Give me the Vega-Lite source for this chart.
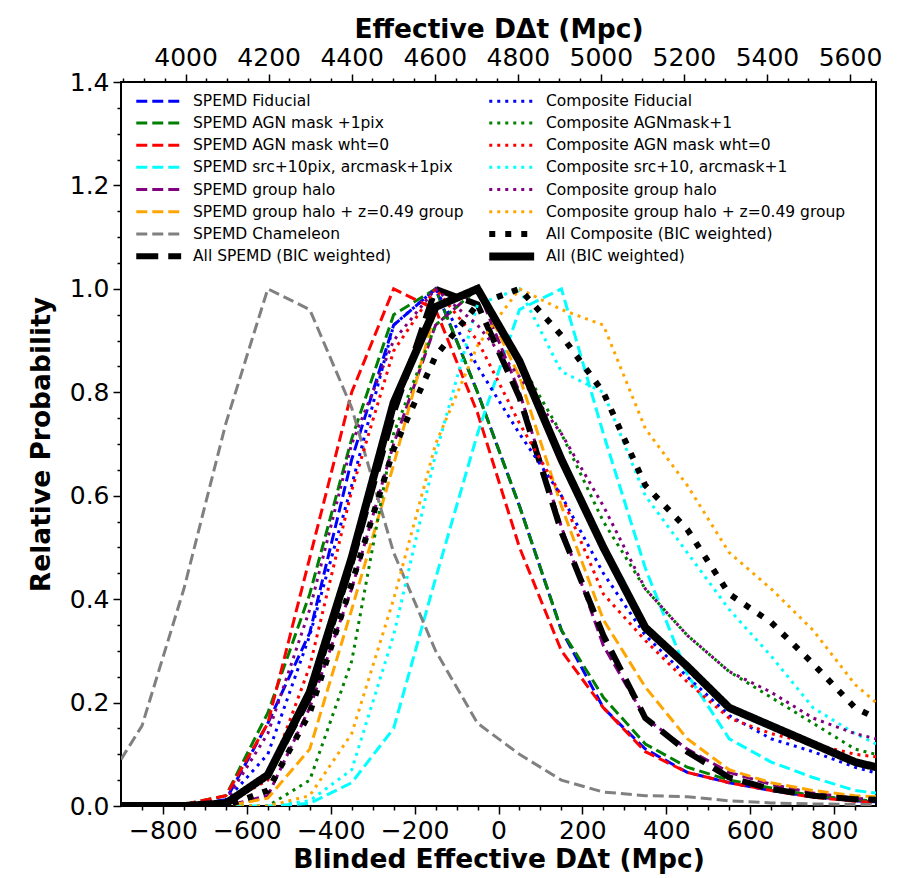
{
  "$schema": "https://vega.github.io/schema/vega-lite/v6.json",
  "width": 755,
  "height": 724,
  "autosize": {"type": "none"},
  "padding": {"left": 121, "top": 82, "right": 32, "bottom": 72},
  "background": "white",
  "config": {
    "view": {"stroke": "black", "strokeWidth": 2},
    "axis": {"domain": false, "grid": false, "tickColor": "black", "tickWidth": 1.5, "labelColor": "black", "labelFont": "DejaVu Sans", "labelFontSize": 25, "titleFont": "DejaVu Sans", "titleFontWeight": "bold", "titleFontSize": 26.5, "titleColor": "black"}
  },
  "data": {"values": [
{"s":"SPEMD Fiducial","x":-900,"y":0},{"s":"SPEMD Fiducial","x":-850,"y":0},{"s":"SPEMD Fiducial","x":-750,"y":0.002},{"s":"SPEMD Fiducial","x":-650,"y":0.012},{"s":"SPEMD Fiducial","x":-550,"y":0.16},{"s":"SPEMD Fiducial","x":-450,"y":0.335},{"s":"SPEMD Fiducial","x":-350,"y":0.67},{"s":"SPEMD Fiducial","x":-250,"y":0.93},{"s":"SPEMD Fiducial","x":-150,"y":1.0},{"s":"SPEMD Fiducial","x":-50,"y":0.8},{"s":"SPEMD Fiducial","x":50,"y":0.58},{"s":"SPEMD Fiducial","x":150,"y":0.34},{"s":"SPEMD Fiducial","x":250,"y":0.19},{"s":"SPEMD Fiducial","x":350,"y":0.11},{"s":"SPEMD Fiducial","x":450,"y":0.065},{"s":"SPEMD Fiducial","x":550,"y":0.045},{"s":"SPEMD Fiducial","x":650,"y":0.03},{"s":"SPEMD Fiducial","x":750,"y":0.018},{"s":"SPEMD Fiducial","x":850,"y":0.01},{"s":"SPEMD Fiducial","x":900,"y":0.008},
{"s":"SPEMD AGN mask +1pix","x":-900,"y":0},{"s":"SPEMD AGN mask +1pix","x":-850,"y":0},{"s":"SPEMD AGN mask +1pix","x":-750,"y":0.003},{"s":"SPEMD AGN mask +1pix","x":-650,"y":0.02},{"s":"SPEMD AGN mask +1pix","x":-550,"y":0.18},{"s":"SPEMD AGN mask +1pix","x":-450,"y":0.41},{"s":"SPEMD AGN mask +1pix","x":-350,"y":0.71},{"s":"SPEMD AGN mask +1pix","x":-250,"y":0.95},{"s":"SPEMD AGN mask +1pix","x":-150,"y":1.0},{"s":"SPEMD AGN mask +1pix","x":-50,"y":0.8},{"s":"SPEMD AGN mask +1pix","x":50,"y":0.58},{"s":"SPEMD AGN mask +1pix","x":150,"y":0.34},{"s":"SPEMD AGN mask +1pix","x":250,"y":0.21},{"s":"SPEMD AGN mask +1pix","x":350,"y":0.12},{"s":"SPEMD AGN mask +1pix","x":450,"y":0.075},{"s":"SPEMD AGN mask +1pix","x":550,"y":0.05},{"s":"SPEMD AGN mask +1pix","x":650,"y":0.035},{"s":"SPEMD AGN mask +1pix","x":750,"y":0.02},{"s":"SPEMD AGN mask +1pix","x":850,"y":0.012},{"s":"SPEMD AGN mask +1pix","x":900,"y":0.01},
{"s":"SPEMD AGN mask wht=0","x":-900,"y":0},{"s":"SPEMD AGN mask wht=0","x":-850,"y":0},{"s":"SPEMD AGN mask wht=0","x":-750,"y":0.003},{"s":"SPEMD AGN mask wht=0","x":-650,"y":0.02},{"s":"SPEMD AGN mask wht=0","x":-550,"y":0.16},{"s":"SPEMD AGN mask wht=0","x":-450,"y":0.48},{"s":"SPEMD AGN mask wht=0","x":-350,"y":0.8},{"s":"SPEMD AGN mask wht=0","x":-250,"y":1.0},{"s":"SPEMD AGN mask wht=0","x":-150,"y":0.96},{"s":"SPEMD AGN mask wht=0","x":-50,"y":0.76},{"s":"SPEMD AGN mask wht=0","x":50,"y":0.5},{"s":"SPEMD AGN mask wht=0","x":150,"y":0.3},{"s":"SPEMD AGN mask wht=0","x":250,"y":0.19},{"s":"SPEMD AGN mask wht=0","x":350,"y":0.105},{"s":"SPEMD AGN mask wht=0","x":450,"y":0.065},{"s":"SPEMD AGN mask wht=0","x":550,"y":0.045},{"s":"SPEMD AGN mask wht=0","x":650,"y":0.03},{"s":"SPEMD AGN mask wht=0","x":750,"y":0.017},{"s":"SPEMD AGN mask wht=0","x":850,"y":0.009},{"s":"SPEMD AGN mask wht=0","x":900,"y":0.007},
{"s":"SPEMD src+10pix, arcmask+1pix","x":-900,"y":0},{"s":"SPEMD src+10pix, arcmask+1pix","x":-850,"y":0},{"s":"SPEMD src+10pix, arcmask+1pix","x":-750,"y":0},{"s":"SPEMD src+10pix, arcmask+1pix","x":-650,"y":0},{"s":"SPEMD src+10pix, arcmask+1pix","x":-550,"y":0},{"s":"SPEMD src+10pix, arcmask+1pix","x":-450,"y":0.005},{"s":"SPEMD src+10pix, arcmask+1pix","x":-350,"y":0.045},{"s":"SPEMD src+10pix, arcmask+1pix","x":-250,"y":0.15},{"s":"SPEMD src+10pix, arcmask+1pix","x":-150,"y":0.44},{"s":"SPEMD src+10pix, arcmask+1pix","x":-50,"y":0.72},{"s":"SPEMD src+10pix, arcmask+1pix","x":50,"y":0.96},{"s":"SPEMD src+10pix, arcmask+1pix","x":150,"y":1.0},{"s":"SPEMD src+10pix, arcmask+1pix","x":250,"y":0.72},{"s":"SPEMD src+10pix, arcmask+1pix","x":350,"y":0.46},{"s":"SPEMD src+10pix, arcmask+1pix","x":450,"y":0.255},{"s":"SPEMD src+10pix, arcmask+1pix","x":550,"y":0.13},{"s":"SPEMD src+10pix, arcmask+1pix","x":650,"y":0.085},{"s":"SPEMD src+10pix, arcmask+1pix","x":750,"y":0.055},{"s":"SPEMD src+10pix, arcmask+1pix","x":850,"y":0.03},{"s":"SPEMD src+10pix, arcmask+1pix","x":900,"y":0.025},
{"s":"SPEMD group halo","x":-900,"y":0},{"s":"SPEMD group halo","x":-850,"y":0},{"s":"SPEMD group halo","x":-750,"y":0},{"s":"SPEMD group halo","x":-650,"y":0},{"s":"SPEMD group halo","x":-550,"y":0.02},{"s":"SPEMD group halo","x":-450,"y":0.19},{"s":"SPEMD group halo","x":-350,"y":0.42},{"s":"SPEMD group halo","x":-250,"y":0.7},{"s":"SPEMD group halo","x":-150,"y":0.93},{"s":"SPEMD group halo","x":-50,"y":1.0},{"s":"SPEMD group halo","x":50,"y":0.8},{"s":"SPEMD group halo","x":150,"y":0.54},{"s":"SPEMD group halo","x":250,"y":0.31},{"s":"SPEMD group halo","x":350,"y":0.17},{"s":"SPEMD group halo","x":450,"y":0.11},{"s":"SPEMD group halo","x":550,"y":0.065},{"s":"SPEMD group halo","x":650,"y":0.042},{"s":"SPEMD group halo","x":750,"y":0.025},{"s":"SPEMD group halo","x":850,"y":0.015},{"s":"SPEMD group halo","x":900,"y":0.012},
{"s":"SPEMD group halo + z=0.49 group","x":-900,"y":0},{"s":"SPEMD group halo + z=0.49 group","x":-850,"y":0},{"s":"SPEMD group halo + z=0.49 group","x":-750,"y":0},{"s":"SPEMD group halo + z=0.49 group","x":-650,"y":0},{"s":"SPEMD group halo + z=0.49 group","x":-550,"y":0.015},{"s":"SPEMD group halo + z=0.49 group","x":-450,"y":0.11},{"s":"SPEMD group halo + z=0.49 group","x":-350,"y":0.38},{"s":"SPEMD group halo + z=0.49 group","x":-250,"y":0.66},{"s":"SPEMD group halo + z=0.49 group","x":-150,"y":0.96},{"s":"SPEMD group halo + z=0.49 group","x":-50,"y":1.0},{"s":"SPEMD group halo + z=0.49 group","x":50,"y":0.83},{"s":"SPEMD group halo + z=0.49 group","x":150,"y":0.58},{"s":"SPEMD group halo + z=0.49 group","x":250,"y":0.36},{"s":"SPEMD group halo + z=0.49 group","x":350,"y":0.23},{"s":"SPEMD group halo + z=0.49 group","x":450,"y":0.13},{"s":"SPEMD group halo + z=0.49 group","x":550,"y":0.07},{"s":"SPEMD group halo + z=0.49 group","x":650,"y":0.045},{"s":"SPEMD group halo + z=0.49 group","x":750,"y":0.03},{"s":"SPEMD group halo + z=0.49 group","x":850,"y":0.02},{"s":"SPEMD group halo + z=0.49 group","x":900,"y":0.018},
{"s":"SPEMD Chameleon","x":-900,"y":0.09},{"s":"SPEMD Chameleon","x":-850,"y":0.155},{"s":"SPEMD Chameleon","x":-750,"y":0.42},{"s":"SPEMD Chameleon","x":-650,"y":0.74},{"s":"SPEMD Chameleon","x":-550,"y":1.0},{"s":"SPEMD Chameleon","x":-450,"y":0.96},{"s":"SPEMD Chameleon","x":-350,"y":0.77},{"s":"SPEMD Chameleon","x":-250,"y":0.49},{"s":"SPEMD Chameleon","x":-150,"y":0.3},{"s":"SPEMD Chameleon","x":-50,"y":0.16},{"s":"SPEMD Chameleon","x":50,"y":0.1},{"s":"SPEMD Chameleon","x":150,"y":0.05},{"s":"SPEMD Chameleon","x":250,"y":0.027},{"s":"SPEMD Chameleon","x":350,"y":0.02},{"s":"SPEMD Chameleon","x":450,"y":0.018},{"s":"SPEMD Chameleon","x":550,"y":0.01},{"s":"SPEMD Chameleon","x":650,"y":0.006},{"s":"SPEMD Chameleon","x":750,"y":0.004},{"s":"SPEMD Chameleon","x":850,"y":0.003},{"s":"SPEMD Chameleon","x":900,"y":0.003},
{"s":"All SPEMD (BIC weighted)","x":-900,"y":0},{"s":"All SPEMD (BIC weighted)","x":-850,"y":0},{"s":"All SPEMD (BIC weighted)","x":-750,"y":0},{"s":"All SPEMD (BIC weighted)","x":-650,"y":0.005},{"s":"All SPEMD (BIC weighted)","x":-550,"y":0.06},{"s":"All SPEMD (BIC weighted)","x":-450,"y":0.21},{"s":"All SPEMD (BIC weighted)","x":-350,"y":0.47},{"s":"All SPEMD (BIC weighted)","x":-250,"y":0.76},{"s":"All SPEMD (BIC weighted)","x":-150,"y":1.0},{"s":"All SPEMD (BIC weighted)","x":-50,"y":0.97},{"s":"All SPEMD (BIC weighted)","x":50,"y":0.79},{"s":"All SPEMD (BIC weighted)","x":150,"y":0.53},{"s":"All SPEMD (BIC weighted)","x":250,"y":0.33},{"s":"All SPEMD (BIC weighted)","x":350,"y":0.17},{"s":"All SPEMD (BIC weighted)","x":450,"y":0.105},{"s":"All SPEMD (BIC weighted)","x":550,"y":0.055},{"s":"All SPEMD (BIC weighted)","x":650,"y":0.033},{"s":"All SPEMD (BIC weighted)","x":750,"y":0.02},{"s":"All SPEMD (BIC weighted)","x":850,"y":0.013},{"s":"All SPEMD (BIC weighted)","x":900,"y":0.012},
{"s":"Composite Fiducial","x":-900,"y":0},{"s":"Composite Fiducial","x":-850,"y":0},{"s":"Composite Fiducial","x":-750,"y":0},{"s":"Composite Fiducial","x":-650,"y":0.01},{"s":"Composite Fiducial","x":-550,"y":0.1},{"s":"Composite Fiducial","x":-450,"y":0.33},{"s":"Composite Fiducial","x":-350,"y":0.62},{"s":"Composite Fiducial","x":-250,"y":0.93},{"s":"Composite Fiducial","x":-150,"y":1.0},{"s":"Composite Fiducial","x":-50,"y":0.85},{"s":"Composite Fiducial","x":50,"y":0.72},{"s":"Composite Fiducial","x":150,"y":0.6},{"s":"Composite Fiducial","x":250,"y":0.45},{"s":"Composite Fiducial","x":350,"y":0.33},{"s":"Composite Fiducial","x":450,"y":0.25},{"s":"Composite Fiducial","x":550,"y":0.175},{"s":"Composite Fiducial","x":650,"y":0.13},{"s":"Composite Fiducial","x":750,"y":0.105},{"s":"Composite Fiducial","x":850,"y":0.075},{"s":"Composite Fiducial","x":900,"y":0.064},
{"s":"Composite AGNmask+1","x":-900,"y":0},{"s":"Composite AGNmask+1","x":-850,"y":0},{"s":"Composite AGNmask+1","x":-750,"y":0},{"s":"Composite AGNmask+1","x":-650,"y":0},{"s":"Composite AGNmask+1","x":-550,"y":0},{"s":"Composite AGNmask+1","x":-450,"y":0.05},{"s":"Composite AGNmask+1","x":-350,"y":0.28},{"s":"Composite AGNmask+1","x":-250,"y":0.72},{"s":"Composite AGNmask+1","x":-150,"y":0.93},{"s":"Composite AGNmask+1","x":-50,"y":1.0},{"s":"Composite AGNmask+1","x":50,"y":0.86},{"s":"Composite AGNmask+1","x":150,"y":0.72},{"s":"Composite AGNmask+1","x":250,"y":0.55},{"s":"Composite AGNmask+1","x":350,"y":0.42},{"s":"Composite AGNmask+1","x":450,"y":0.33},{"s":"Composite AGNmask+1","x":550,"y":0.26},{"s":"Composite AGNmask+1","x":650,"y":0.21},{"s":"Composite AGNmask+1","x":750,"y":0.16},{"s":"Composite AGNmask+1","x":850,"y":0.11},{"s":"Composite AGNmask+1","x":900,"y":0.1},
{"s":"Composite AGN mask wht=0","x":-900,"y":0},{"s":"Composite AGN mask wht=0","x":-850,"y":0},{"s":"Composite AGN mask wht=0","x":-750,"y":0},{"s":"Composite AGN mask wht=0","x":-650,"y":0.005},{"s":"Composite AGN mask wht=0","x":-550,"y":0.05},{"s":"Composite AGN mask wht=0","x":-450,"y":0.27},{"s":"Composite AGN mask wht=0","x":-350,"y":0.61},{"s":"Composite AGN mask wht=0","x":-250,"y":0.88},{"s":"Composite AGN mask wht=0","x":-150,"y":1.0},{"s":"Composite AGN mask wht=0","x":-50,"y":0.9},{"s":"Composite AGN mask wht=0","x":50,"y":0.74},{"s":"Composite AGN mask wht=0","x":150,"y":0.6},{"s":"Composite AGN mask wht=0","x":250,"y":0.41},{"s":"Composite AGN mask wht=0","x":350,"y":0.32},{"s":"Composite AGN mask wht=0","x":450,"y":0.24},{"s":"Composite AGN mask wht=0","x":550,"y":0.17},{"s":"Composite AGN mask wht=0","x":650,"y":0.14},{"s":"Composite AGN mask wht=0","x":750,"y":0.12},{"s":"Composite AGN mask wht=0","x":850,"y":0.1},{"s":"Composite AGN mask wht=0","x":900,"y":0.095},
{"s":"Composite src+10, arcmask+1","x":-900,"y":0},{"s":"Composite src+10, arcmask+1","x":-850,"y":0},{"s":"Composite src+10, arcmask+1","x":-750,"y":0},{"s":"Composite src+10, arcmask+1","x":-650,"y":0},{"s":"Composite src+10, arcmask+1","x":-550,"y":0},{"s":"Composite src+10, arcmask+1","x":-450,"y":0.01},{"s":"Composite src+10, arcmask+1","x":-350,"y":0.07},{"s":"Composite src+10, arcmask+1","x":-250,"y":0.33},{"s":"Composite src+10, arcmask+1","x":-150,"y":0.68},{"s":"Composite src+10, arcmask+1","x":-50,"y":0.97},{"s":"Composite src+10, arcmask+1","x":50,"y":1.0},{"s":"Composite src+10, arcmask+1","x":150,"y":0.84},{"s":"Composite src+10, arcmask+1","x":250,"y":0.8},{"s":"Composite src+10, arcmask+1","x":350,"y":0.6},{"s":"Composite src+10, arcmask+1","x":450,"y":0.49},{"s":"Composite src+10, arcmask+1","x":550,"y":0.38},{"s":"Composite src+10, arcmask+1","x":650,"y":0.29},{"s":"Composite src+10, arcmask+1","x":750,"y":0.19},{"s":"Composite src+10, arcmask+1","x":850,"y":0.14},{"s":"Composite src+10, arcmask+1","x":900,"y":0.12},
{"s":"Composite group halo","x":-900,"y":0},{"s":"Composite group halo","x":-850,"y":0},{"s":"Composite group halo","x":-750,"y":0},{"s":"Composite group halo","x":-650,"y":0.01},{"s":"Composite group halo","x":-550,"y":0.14},{"s":"Composite group halo","x":-450,"y":0.38},{"s":"Composite group halo","x":-350,"y":0.7},{"s":"Composite group halo","x":-250,"y":0.9},{"s":"Composite group halo","x":-150,"y":1.0},{"s":"Composite group halo","x":-50,"y":0.93},{"s":"Composite group halo","x":50,"y":0.83},{"s":"Composite group halo","x":150,"y":0.72},{"s":"Composite group halo","x":250,"y":0.58},{"s":"Composite group halo","x":350,"y":0.42},{"s":"Composite group halo","x":450,"y":0.33},{"s":"Composite group halo","x":550,"y":0.26},{"s":"Composite group halo","x":650,"y":0.22},{"s":"Composite group halo","x":750,"y":0.17},{"s":"Composite group halo","x":850,"y":0.14},{"s":"Composite group halo","x":900,"y":0.13},
{"s":"Composite group halo + z=0.49 group","x":-900,"y":0},{"s":"Composite group halo + z=0.49 group","x":-850,"y":0},{"s":"Composite group halo + z=0.49 group","x":-750,"y":0},{"s":"Composite group halo + z=0.49 group","x":-650,"y":0},{"s":"Composite group halo + z=0.49 group","x":-550,"y":0},{"s":"Composite group halo + z=0.49 group","x":-450,"y":0.02},{"s":"Composite group halo + z=0.49 group","x":-350,"y":0.14},{"s":"Composite group halo + z=0.49 group","x":-250,"y":0.4},{"s":"Composite group halo + z=0.49 group","x":-150,"y":0.7},{"s":"Composite group halo + z=0.49 group","x":-50,"y":0.89},{"s":"Composite group halo + z=0.49 group","x":50,"y":1.0},{"s":"Composite group halo + z=0.49 group","x":150,"y":0.96},{"s":"Composite group halo + z=0.49 group","x":250,"y":0.93},{"s":"Composite group halo + z=0.49 group","x":350,"y":0.73},{"s":"Composite group halo + z=0.49 group","x":450,"y":0.62},{"s":"Composite group halo + z=0.49 group","x":550,"y":0.49},{"s":"Composite group halo + z=0.49 group","x":650,"y":0.42},{"s":"Composite group halo + z=0.49 group","x":750,"y":0.34},{"s":"Composite group halo + z=0.49 group","x":850,"y":0.235},{"s":"Composite group halo + z=0.49 group","x":900,"y":0.2},
{"s":"All Composite (BIC weighted)","x":-900,"y":0},{"s":"All Composite (BIC weighted)","x":-850,"y":0},{"s":"All Composite (BIC weighted)","x":-750,"y":0},{"s":"All Composite (BIC weighted)","x":-650,"y":0},{"s":"All Composite (BIC weighted)","x":-550,"y":0.03},{"s":"All Composite (BIC weighted)","x":-450,"y":0.18},{"s":"All Composite (BIC weighted)","x":-350,"y":0.43},{"s":"All Composite (BIC weighted)","x":-250,"y":0.69},{"s":"All Composite (BIC weighted)","x":-150,"y":0.87},{"s":"All Composite (BIC weighted)","x":-50,"y":0.97},{"s":"All Composite (BIC weighted)","x":50,"y":1.0},{"s":"All Composite (BIC weighted)","x":150,"y":0.91},{"s":"All Composite (BIC weighted)","x":250,"y":0.8},{"s":"All Composite (BIC weighted)","x":350,"y":0.62},{"s":"All Composite (BIC weighted)","x":450,"y":0.535},{"s":"All Composite (BIC weighted)","x":550,"y":0.41},{"s":"All Composite (BIC weighted)","x":650,"y":0.355},{"s":"All Composite (BIC weighted)","x":750,"y":0.275},{"s":"All Composite (BIC weighted)","x":850,"y":0.19},{"s":"All Composite (BIC weighted)","x":900,"y":0.17},
{"s":"All (BIC weighted)","x":-900,"y":0},{"s":"All (BIC weighted)","x":-850,"y":0},{"s":"All (BIC weighted)","x":-750,"y":0},{"s":"All (BIC weighted)","x":-650,"y":0.005},{"s":"All (BIC weighted)","x":-550,"y":0.06},{"s":"All (BIC weighted)","x":-450,"y":0.22},{"s":"All (BIC weighted)","x":-350,"y":0.48},{"s":"All (BIC weighted)","x":-250,"y":0.78},{"s":"All (BIC weighted)","x":-150,"y":0.965},{"s":"All (BIC weighted)","x":-50,"y":1.0},{"s":"All (BIC weighted)","x":50,"y":0.86},{"s":"All (BIC weighted)","x":150,"y":0.67},{"s":"All (BIC weighted)","x":250,"y":0.5},{"s":"All (BIC weighted)","x":350,"y":0.345},{"s":"All (BIC weighted)","x":450,"y":0.27},{"s":"All (BIC weighted)","x":550,"y":0.19},{"s":"All (BIC weighted)","x":650,"y":0.155},{"s":"All (BIC weighted)","x":750,"y":0.12},{"s":"All (BIC weighted)","x":850,"y":0.085},{"s":"All (BIC weighted)","x":900,"y":0.075}
  ]},
  "resolve": {"axis": {"x": "independent", "y": "independent"}},
  "layer": [
    {
      "mark": {"type": "line", "clip": true, "strokeCap": "butt", "strokeJoin": "miter"},
      "encoding": {
        "x": {"field": "x", "type": "quantitative", "scale": {"domain": [-900, 900], "nice": false, "zero": false},
              "axis": {"orient": "bottom", "values": [-800, -600, -400, -200, 0, 200, 400, 600, 800], "format": "d", "tickSize": 8, "labelPadding": 4, "title": "Blinded Effective DΔt (Mpc)", "titlePadding": 3}},
        "y": {"field": "y", "type": "quantitative", "scale": {"domain": [0, 1.4], "nice": false, "zero": false},
              "axis": {"orient": "left", "values": [0, 0.2, 0.4, 0.6, 0.8, 1.0, 1.2, 1.4], "format": ".1f", "tickSize": 8, "labelPadding": 4, "title": "Relative Probability", "titlePadding": 14}},
        "color": {"field": "s", "type": "nominal",
          "scale": {"domain": ["SPEMD Fiducial", "SPEMD AGN mask +1pix", "SPEMD AGN mask wht=0", "SPEMD src+10pix, arcmask+1pix", "SPEMD group halo", "SPEMD group halo + z=0.49 group", "SPEMD Chameleon", "All SPEMD (BIC weighted)", "Composite Fiducial", "Composite AGNmask+1", "Composite AGN mask wht=0", "Composite src+10, arcmask+1", "Composite group halo", "Composite group halo + z=0.49 group", "All Composite (BIC weighted)", "All (BIC weighted)"],
                    "range": ["#0000ff", "#008000", "#ff0000", "#00ffff", "#800080", "#ffa500", "#808080", "#000000", "#0000ff", "#008000", "#ff0000", "#00ffff", "#800080", "#ffa500", "#000000", "#000000"]},
          "legend": {"orient": "top-left", "columns": 2, "title": null, "symbolType": "M-1,0H11", "symbolSize": 56, "symbolStrokeWidth": 3, "labelFont": "DejaVu Sans", "labelFontSize": 15.5, "labelColor": "black", "labelLimit": 400, "labelOffset": 45, "columnPadding": 21, "rowPadding": 5.2, "offset": 11, "padding": 0,
                     "encode": {"symbols": {"update": {"strokeJoin": {"value": "bevel"}, "strokeCap": {"value": "butt"}, "strokeWidth": {"signal": "datum.value === 'All (BIC weighted)' ? 8 : (datum.value === 'All SPEMD (BIC weighted)' || datum.value === 'All Composite (BIC weighted)') ? 6 : 3"}}}}}},
        "strokeDash": {"field": "s", "type": "nominal",
          "scale": {"domain": ["SPEMD Fiducial", "SPEMD AGN mask +1pix", "SPEMD AGN mask wht=0", "SPEMD src+10pix, arcmask+1pix", "SPEMD group halo", "SPEMD group halo + z=0.49 group", "SPEMD Chameleon", "All SPEMD (BIC weighted)", "Composite Fiducial", "Composite AGNmask+1", "Composite AGN mask wht=0", "Composite src+10, arcmask+1", "Composite group halo", "Composite group halo + z=0.49 group", "All Composite (BIC weighted)", "All (BIC weighted)"],
                    "range": [[11, 5], [11, 5], [11, 5], [11, 5], [11, 5], [11, 5], [11, 5], [22, 10], [3, 5], [3, 5], [3, 5], [3, 5], [3, 5], [3, 5], [6, 10], [1, 0]]}},
        "strokeWidth": {"field": "s", "type": "ordinal", "legend": null,
          "scale": {"type": "ordinal", "domain": ["SPEMD Fiducial", "SPEMD AGN mask +1pix", "SPEMD AGN mask wht=0", "SPEMD src+10pix, arcmask+1pix", "SPEMD group halo", "SPEMD group halo + z=0.49 group", "SPEMD Chameleon", "All SPEMD (BIC weighted)", "Composite Fiducial", "Composite AGNmask+1", "Composite AGN mask wht=0", "Composite src+10, arcmask+1", "Composite group halo", "Composite group halo + z=0.49 group", "All Composite (BIC weighted)", "All (BIC weighted)"],
                    "range": [3, 3, 3, 3, 3, 3, 3, 6, 3, 3, 3, 3, 3, 3, 6, 8]}}
      }
    },
    {
      "mark": {"type": "point", "opacity": 0},
      "encoding": {
        "x": {"field": "x", "type": "quantitative", "axis": {"orient": "bottom", "values": [-850, -750, -700, -650, -550, -500, -450, -350, -300, -250, -150, -100, -50, 50, 100, 150, 250, 300, 350, 450, 500, 550, 650, 700, 750, 850], "tickSize": 4, "labels": false, "title": null}},
        "y": {"field": "y", "type": "quantitative", "axis": {"orient": "left", "values": [0.05, 0.1, 0.15, 0.25, 0.3, 0.35, 0.45, 0.5, 0.55, 0.65, 0.7, 0.75, 0.85, 0.9, 0.95, 1.05, 1.1, 1.15, 1.25, 1.3, 1.35], "tickSize": 4, "labels": false, "title": null}}
      }
    },
    {
      "mark": {"type": "point", "opacity": 0},
      "encoding": {
        "x": {"field": "x", "type": "quantitative", "axis": {"orient": "top", "values": [-746, -548, -350, -152, 46, 244, 442, 640, 838], "labelExpr": "format(round((datum.value + 746) / 0.99 + 4000), 'd')", "tickSize": 8, "labelPadding": 4, "title": "Effective DΔt (Mpc)", "titlePadding": 2}},
        "y": {"field": "y", "type": "quantitative", "axis": null}
      }
    },
    {
      "mark": {"type": "point", "opacity": 0},
      "encoding": {
        "x": {"field": "x", "type": "quantitative", "axis": {"orient": "top", "values": [-894.5, -845, -795.5, -696.5, -647, -597.5, -498.5, -449, -399.5, -300.5, -251, -201.5, -102.5, -53, -3.5, 95.5, 145, 194.5, 293.5, 343, 392.5, 491.5, 541, 590.5, 689.5, 739, 788.5, 887.5], "tickSize": 4, "labels": false, "title": null}},
        "y": {"field": "y", "type": "quantitative", "axis": null}
      }
    }
  ]
}
